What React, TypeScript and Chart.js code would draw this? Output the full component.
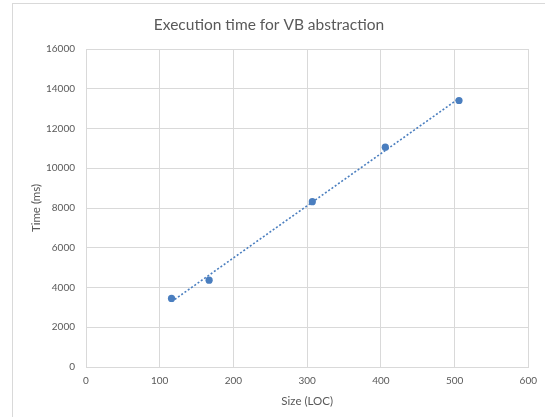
import React, { useEffect, useRef } from "react";
import { Chart, registerables } from "chart.js";

Chart.register(...registerables);

const sizeLoc: number[] = [116, 167, 307, 406, 506];
const timeMs: number[] = [3450, 4370, 8320, 11060, 13410];
const xTicks: number[] = [0, 100, 200, 300, 400, 500, 600];
const yTicks: number[] = [0, 2000, 4000, 6000, 8000, 10000, 12000, 14000, 16000];

const titleText = "Execution time for VB abstraction";
const xTitle = "Size (LOC)";
const yTitle = "Time (ms)";

const FONT = "Lato, 'Open Sans', sans-serif";
const TEXT = "#595959";
const GRID = "#d9d9d9";
const BLUE = "#4a7ebf";

function linearFit(xs: number[], ys: number[]) {
  const n = xs.length;
  const mx = xs.reduce((a, b) => a + b, 0) / n;
  const my = ys.reduce((a, b) => a + b, 0) / n;
  let sxy = 0;
  let sxx = 0;
  for (let i = 0; i < n; i++) {
    sxy += (xs[i] - mx) * (ys[i] - my);
    sxx += (xs[i] - mx) * (xs[i] - mx);
  }
  const slope = sxy / sxx;
  const intercept = my - slope * mx;
  return (x: number) => slope * x + intercept;
}

export default function App() {
  const ref = useRef<HTMLCanvasElement | null>(null);

  useEffect(() => {
    if (!ref.current) return;
    const fit = linearFit(sizeLoc, timeMs);
    const xMin = Math.min(...sizeLoc);
    const xMax = Math.max(...sizeLoc);
    const chart = new Chart(ref.current, {
      type: "scatter",
      data: {
        datasets: [
          {
            label: "Trend",
            data: [
              { x: xMin, y: fit(xMin) },
              { x: xMax, y: fit(xMax) },
            ],
            showLine: true,
            borderColor: BLUE,
            borderWidth: 1.6,
            borderDash: [2, 2],
            pointRadius: 0,
            fill: false,
            order: 2,
          },
          {
            label: "Time",
            data: sizeLoc.map((x, i) => ({ x, y: timeMs[i] })),
            backgroundColor: BLUE,
            borderColor: BLUE,
            pointRadius: 3.6,
            pointBorderWidth: 0,
            showLine: false,
            order: 1,
          },
        ],
      },
      options: {
        responsive: false,
        animation: false,
        devicePixelRatio: 1,
        layout: { padding: { left: 9, right: 16, top: 0, bottom: 0 } },
        plugins: {
          legend: { display: false },
          tooltip: { enabled: false },
          title: {
            display: true,
            text: titleText,
            color: TEXT,
            font: { family: FONT, size: 15.5, weight: "normal" },
            padding: { top: 15.7, bottom: 14.7 },
          },
        },
        scales: {
          x: {
            type: "linear",
            min: xTicks[0],
            max: xTicks[xTicks.length - 1],
            afterBuildTicks: (s: any) => {
              s.ticks = xTicks.map((v) => ({ value: v }));
            },
            afterFit: (s: any) => {
              s.height = 50;
            },
            grid: { color: GRID, drawTicks: false, lineWidth: 1 },
            border: { color: GRID },
            ticks: {
              color: TEXT,
              font: { family: FONT, size: 10 },
              padding: 8,
              maxRotation: 0,
            },
            title: {
              display: true,
              text: xTitle,
              color: TEXT,
              font: { family: FONT, size: 11.5 },
              padding: { top: 0, bottom: 9 },
            },
          },
          y: {
            type: "linear",
            min: yTicks[0],
            max: yTicks[yTicks.length - 1],
            afterBuildTicks: (s: any) => {
              s.ticks = yTicks.map((v) => ({ value: v }));
            },
            afterFit: (s: any) => {
              s.width = 77;
            },
            grid: { color: GRID, drawTicks: false, lineWidth: 1 },
            border: { color: GRID },
            ticks: {
              color: TEXT,
              font: { family: FONT, size: 10 },
              padding: 11,
              callback: (v: any) => String(v),
            },
            title: {
              display: true,
              text: yTitle,
              color: TEXT,
              font: { family: FONT, size: 11.5 },
              padding: { top: 20, bottom: 0 },
            },
          },
        },
      },
    });
    return () => chart.destroy();
  }, []);

  return (
    <div style={{ position: "fixed", left: 0, top: 0, width: 545, height: 417, background: "#fff" }}>
      <div
        style={{
          position: "absolute",
          left: 12,
          top: 3,
          width: 600,
          height: 500,
          borderLeft: `1px solid ${GRID}`,
          borderTop: `1px solid ${GRID}`,
        }}
      />
      <canvas ref={ref} width={545} height={417} style={{ position: "absolute", left: 0, top: 0 }} />
    </div>
  );
}
